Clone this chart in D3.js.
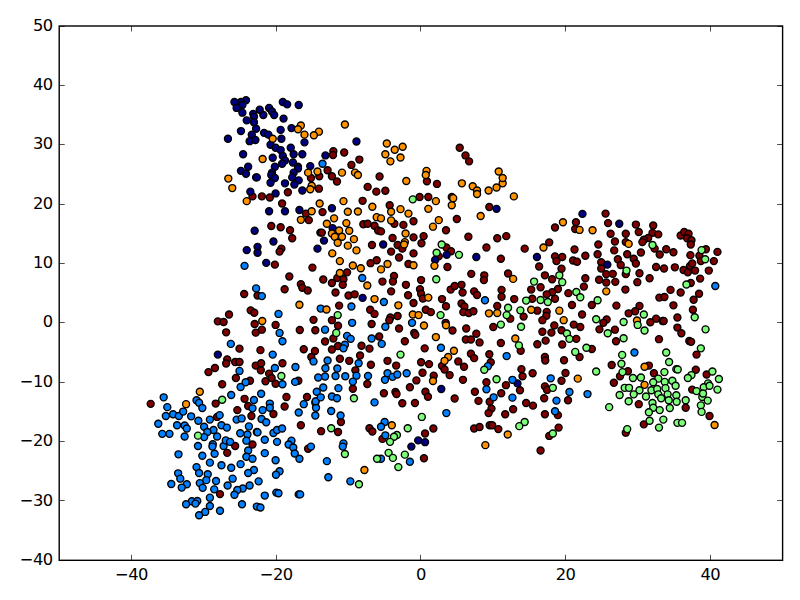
<!DOCTYPE html>
<html><head><meta charset="utf-8">
<script src="https://cdn.jsdelivr.net/npm/d3@7"></script>
<style>html,body{margin:0;padding:0;background:#fff}svg{display:block}text{font-family:"DejaVu Sans",sans-serif;font-size:16.3px;letter-spacing:-0.5px;fill:#000}</style>
</head><body><div id="chart"></div>
<script>
const xTicks=[-40,-20,0,20,40];
const yTicks=[-40,-30,-20,-10,0,10,20,30,40,50];
const maroon=[[-12.8,25.7],[-13.95,24.7],[-15.1,24.4],[-14,22.6],[-18.3,22],[-23.2,21.3],[-21.9,21.3],[-20.8,21.1],[-19.1,20.1],[-15.8,18.4],[-13.5,18.65],[-15.4,17.3],[-20.6,16.3],[-19.3,16.1],[-18,15.6],[-13.8,15.2],[-13.6,15.2],
[-12,28.9],[-12.05,28.25],[-10.5,28.7],[-8.4,27.5],[-9.5,26.6],[-12.2,24.7],[-11.5,23.8],[-5.6,24.65],[-7.25,22.9],[-6.05,22.1],[-4.8,22.25],[-7.95,20.55],[-4.2,19.8],[0.96,23.85],[2.35,23.4],[-0.05,21.2],[1.15,21.2],[4.4,21.2],[5.5,29.5],[6.3,28.2],[6.8,27.2],[9.6,19.5],[5.1,17.5],[-7.85,16.6],[-7.25,16.7],[-6.3,16.35],[-5.8,15.55],[-5.4,15.4],[-3.55,16.7],[-2.3,16.5],[-0.9,17.1],[3.6,15.6],
[-6.65,13.1],[-3.8,14.3],[-3.1,13.1],[-2.45,12.5],[-0.9,14.4],[0.5,14.6],[0.2,13.4],[-4,12],[-0.9,11.7],[-2.9,11],[-6,10.55],[-6.85,10.05],[-1.6,9.9],[3.8,9.4],[3.65,12.7],[4.3,12.05],[2.6,11.2],[6.7,14.5],[9.2,12.7],[10.7,14.25],[11.95,14.6],[14.5,12.5],[11.2,10.8],[7.1,8.25],[8.9,8],[8.85,7.2],[12.2,8.3],[0.15,7.2],[-3.6,7.9],[-5.2,6.95],[-3.75,6.95],[-1.95,6.4],[-10.1,8.5],[-11.45,7.55],[-10.6,7.35],[-12.2,6.7],[-10.7,6.4],[-11.7,5.1],[-9.9,4.6],[-9.05,4.8],[-4,5.3],[-1.65,4.65],[0,5.65],[0.15,4.9],[0.4,4.1],[-0.9,3.35],[3.05,4],[3.6,2.8],[4.25,5.6],[4.8,6.2],[5.75,6.4],[5.9,5.1],[7.5,5.3],[7.9,4.7],[5.75,3.25],[6.15,2.75],[6,1.8],[6.75,1.65],[7.4,1.95],[11.3,5.55],[11.3,4.4],[13.05,4],[10.7,2.85],[12.5,0.7],[14.35,1.05],[-11.2,2.9],[-6.9,2.2],[-6.3,1.5],[-4.1,0.9],[-4.25,0.45],[-3.1,1.15],[0.8,2.2],[1.5,1.8],[-12.2,0.45],[-11.35,-0.5],[-6.7,-0.2],[-2.9,-0.95],[3.55,0],[4.5,-1.3],[6.4,-0.95],[10.15,-0.7],[7.8,-1.85],[6.35,-2.8],[7.05,-2.8],[8.25,-3.3],[-0.8,-1.7],[-0.65,-2],[-2.1,-3.1],[-5.65,-2.3],[-12,-2.65],[-11.35,-3.9],[-12.2,-4.5],[-8.1,-3.85],[-7,-4.35],[-8.3,-5.5],[-11.1,-6.05],[-9.8,-6.4],[-6.8,-7.05],[-4.5,-6.4],[-3.3,-7.2],[0.65,-4.3],[0.15,-6.65],[1.25,-6.95],[0.35,-8.4],[1.9,-8.9],[3.05,-7.25],[3.4,-7.85],[4.1,-8.8],[5.3,-6.5],[6.1,-7.4],[7.05,-5.2],[7.5,-5.95],[9.6,-5.3],[9.8,-6.65],[11.2,-3.4],[13.95,-4.7],[14.05,-7.8],[14.2,-9],[11.9,-10.5],[9.2,-10],[5.95,-9.6],[-0.5,-9.7],[-8.95,-8],[-7.3,-10.3],
[25.7,18.4],[26.05,16.8],[29.9,16.55],[32.3,16.4],[21.6,16.95],[21.5,15.8],[18.7,16.05],[26.4,15],[28.5,15],[30.3,15.3],[32.2,15.15],[33,14.9],[31.6,14.3],[31,14],[30.8,13.6],[27,13.7],[28.5,13.6],[24.7,13.2],[17.9,13.55],[21.4,12.35],[26.9,12.2],[24.6,11.55],[28.7,11.55],[30.6,11.85],[32.5,12.5],[33.2,11.5],[34.1,12.4],[35.1,11.9],[36.1,14.7],[36.6,15.3],[37.2,15],[37,14.25],[37.6,13.9],[37.5,13.2],[37.45,11.4],[39.6,12.4],[41.2,11.95],[38.7,11.3],[38.9,10.4],[40.7,10.4],[18.7,11.2],[19.7,11.1],[18.9,10.4],[22.9,11.3],[21.2,10.5],[21.75,10.3],[16.5,9.5],[19.6,9.1],[25.1,10.2],[25.1,9.15],[27.4,10.7],[27.8,9.75],[29.6,10.8],[29.9,10],[32.7,9.4],[33.8,9.15],[35.3,9.35],[36.5,8.9],[37.1,8.5],[37.4,9.6],[37.7,10],[38.1,8.8],[40,8.8],[25.8,8.2],[26.7,8.25],[28.5,8.2],[30.4,8.35],[17.3,8],[18.3,7.35],[22.9,7.5],[24.8,7.25],[25.8,6.8],[27.05,6.9],[30.1,6.85],[31.8,7.5],[38.8,7.45],[37.5,6.7],[16.7,6],[22.7,6.1],[15.4,5.6],[19.1,5.7],[18.3,5.15],[17.55,4.8],[20.55,5],[28.45,5.6],[34.7,5.55],[36.1,5.1],[38.65,4.9],[33.15,4.25],[33.85,4.35],[37.9,3.9],[15.55,4.05],[18.7,4.05],[35.1,2.95],[21.05,3],[23.8,3],[27.2,2.9],[30.4,2.85],[29.8,1.95],[28.9,1.6],[37.8,2.2],[16.25,2.05],[17.55,1.85],[17.5,1.2],[16.95,0.45],[22.45,1.4],[25.85,0.55],[25.4,0],[32.7,0.7],[31.9,0.1],[33.6,0.3],[33.75,0.3],[35.65,0.9],[18.6,-0.45],[21.3,-0.3],[22.2,-0.7],[16.95,-1.5],[18.2,-1.65],[19.6,-1.25],[24.85,-1.1],[27,-1.15],[35.65,-0.8],[36.2,-1.75],[21.65,-2.7],[17.4,-3],[16.25,-3.6],[19.7,-3.65],[27.15,-3.1],[33.1,-2.75],[37.3,-3.05],[37.55,-3.2],[23.8,-4.4],
[17.3,-5.75],[17.35,-6.35],[19.95,-6.3],[22.1,-5.75],[38.3,-5.35],[26.55,-7.1],[31.7,-7.2],[28.8,-8.15],[32.4,-8.5],[38.2,-7.9],[39.7,-8.7],[15.6,-8.5],[20.15,-8.45],[27.7,-9],[19.6,-9.75],[26.85,-10.1],[17.3,-10.7],[17.6,-11.3],[37.7,-11.25],[17.2,-12.7],[20.5,-13.05],[15.65,-13.95],[30.3,-13.7],[36.8,-14.3],[17.3,-15.4],[19.1,-15.55],[40.1,-15.7],[31,-17.1],[19.2,-17.65],[28.5,-18.5],[17.9,-19.05],[16.7,-21.5],
[-9.3,-11.1],[-5,-11.85],[-3.4,-11.65],[-3.25,-12],[-1.4,-10.85],[0.75,-11.6],[1.1,-12.45],[-2.45,-13.55],[-0.7,-13.5],[4.8,-12.75],[-10.95,-16.7],[-11.35,-18.4],[-7,-17.75],[-6.6,-18.3],[-5.2,-19.55],[0.7,-18.65],[1.85,-17.8],[0.55,-22.8],[7.6,-11.6],[8.1,-13.15],[9.65,-13.3],[9.9,-14.45],[9.5,-15.2],[11.25,-11.85],[13.85,-11.35],[14.7,-13.5],[12.9,-14.55],[11.8,-15.4],[7.5,-17.8],[8.25,-17.55],[9.65,-17.25],[10,-17.25],[10.85,-17.9],
[-37.3,-13.65],[-28.3,-13.6],[-24.3,-12.8],[-23.8,-14],[-25.3,-14.7],[-23.35,-15.7],[-28.1,-15.85],[-18.5,-12.5],[-18.75,-14.1],[-20.3,-15.35],[-15.65,-12.5],[-14.5,-13.45],[-16.5,-17.25],[-13.7,-18.25],[-22.6,-18.4],[-23.2,-20.5],[-25.6,-20.75],[-26.7,-21.9],[-15.5,-21.2],[-27.7,-28.85],
[-17.7,14.25],[-19.2,12.5],[-19.45,12],[-20.1,9.8],[-14.9,9.3],[-18.1,7.8],[-16.5,6.5],[-16.3,5.9],[-15.55,5.45],[-18.75,5.65],[-13.4,7.3],[-24.35,4.85],[-22.5,4.6],[-23.45,2.1],[-22.95,1.7],[-26.45,1.4],[-28,0.25],[-27.2,0.15],[-22.9,-0.2],[-21.9,-1.15],[-20,-0.35],[-22.75,-1.65],[-26.85,-1.6],[-14.75,0.5],[-16.65,-1.2],[-14.5,-1.25],[-13.15,-3.15],[-25,-4.35],[-22.1,-4.6],[-16.1,-4.45],[-14.55,-4.75],[-15.05,-5.75],[-26.7,-6.15],[-26.85,-6.85],[-25.6,-6.6],[-25,-6.6],[-22.75,-7.2],[-22,-6.8],[-19.05,-6.8],[-22.05,-8],[-28.4,-7.6],[-29.3,-8.3],[-20.9,-8.55],[-20.55,-9.3],[-25.5,-9.3],[-23.55,-9.75],[-21.4,-9.85],[-20,-10.25],[-16.85,-9.75],[-27.4,-10.35]];
const navy=[[-24.1,37.5],[-24.8,37.2],[-25.7,37.2],[-24.6,36.7],[-25.4,36.2],[-24.6,35.4],[-22.2,35.9],[-20.9,36.2],[-20.5,35.6],[-20.2,35],[-21.7,35],[-23.1,35.2],[-23,34.7],[-24,34.1],[-23,33.8],[-19,37.2],[-18.4,36.8],[-16.8,36.7],[-18.9,34.4],[-24.8,32.3],[-22.7,32.7],[-26.6,31],[-23.3,31.7],[-23.6,30.6],[-22.8,30.8],[-21.6,32],[-21,31.7],[-19.3,32.5],[-17.8,32.8],[-19.2,31],[-20.7,30],[-20,29.5],[-19.3,29.1],[-17.9,29.5],[-16,30.4],[-17.5,28.4],[-16.3,28.4],[-13.1,28.2],[-24.5,28.4],[-20.4,27.8],[-19,28.1],[-18.7,27.35],[-19.1,26.8],[-17.6,27],[-16.9,26.3],[-16.9,26],[-20.1,26.3],[-23.8,26.3],[-24.8,25.6],[-24.1,25.1],[-22.7,24.5],[-22.6,24.5],[-20.5,25.3],[-20.6,24.9],[-20.1,24.4],[-17.5,25.3],[-17.7,24.5],[-15.2,26.4],[-16.8,24],[-17.4,23.3],[-20.7,23.6],[-18.7,23.5],[-16.3,22.3],[-23.5,22.1],[-20,21.8],[-20.9,18.8],[-18.7,18.8],[-16.7,19],[-22.9,15.5],
[-8.8,30.55],[-12.2,19.3],[-12.1,15.95],[10.6,19.2],[-5.1,13.2],[2.1,10.6],[3.7,11.45],[7.8,11.1],[-7.95,4.2],[13.5,-10.2],[22.5,18.35],[27.6,16.7],[16.2,11.1],[25.95,9.8],[2.95,-11.15],[-0.25,-19.8],[0.7,-20.1],[-1.2,-20.85],
[-24,12.25],[-22.5,12.8],[-22.5,11.8],[-20.3,13.7],[-13.3,13.85],[-14.2,12.5],[-21.3,10.1],[-28,-5.35]];
const blue=[[-13.5,26.8],[-8,7.55],[-5,3.5],[-9.5,2.75],[-9.4,0],[-6.7,-2.65],[-4.8,-0.65],[-1.1,0],[-5.3,-3.55],[-10.1,-2.2],[-9.6,-2.7],[-10.4,-3.7],[-10.6,-4.3],[2.9,-4.2],[9,3.8],[12,-5.6],[9.4,-7.3],[-8.5,-6.8],[-11.45,-7.7],[-11.7,-8.95],[-10.35,-9],[-8.8,-8.9],[-9.3,-9.9],[-7.2,-8.95],[-4.5,-8.5],[-4.85,-9.6],[-3.8,-9.1],[-3.15,-8.7],[-1.85,-8.5],[12.8,-9.6],[40.9,6.2],[29.7,-5],[18.1,-9.35],[20.7,-11.65],[23.2,-12],[18.9,-13.1],[18.7,-14.9],
[-11.3,-11],[-12.2,-12.4],[-11.5,-12.7],[-6.3,-13.4],[-12.3,-14.85],[-11,-15.6],[3.65,-15.2],[9.2,-11.2],[10.2,-12.55],[12.8,-12.6],[-4.9,-16.7],[-5.4,-17.5],[-4.8,-18.95],[-10.6,-20.3],[-10.7,-20.85],[-5.4,-22.9],[-1.4,-23.4],[-9.65,-26.7],
[-35.5,-12.55],[-35,-14.2],[-35.2,-15.7],[-34.2,-15.4],[-33.4,-15.7],[-32.8,-14.95],[-36.25,-17],[-33.65,-17.25],[-32.6,-17.3],[-32.3,-17.8],[-35.7,-18.7],[-34.7,-18.7],[-32.6,-19.15],[-31.7,-15.75],[-30.95,-13.05],[-30.6,-13.45],[-30.15,-14.35],[-30.7,-16.5],[-29.1,-16.3],[-29.9,-17.5],[-28.6,-18.05],[-29.45,-18.4],[-29.9,-19.25],[-28.1,-19.15],[-27.75,-15.55],[-27.5,-17.25],[-26.75,-17.65],[-26.15,-12.15],[-25.4,-16.3],[-24.7,-16.1],[-24.9,-18.6],[-23.9,-18.8],[-23.7,-17.45],[-24.05,-19.85],[-22.5,-18.45],[-21.5,-19.7],[-20.3,-18.55],[-19.8,-18.05],[-19.1,-17.8],[-21.95,-16.2],[-21.3,-16.75],[-21.8,-14.7],[-23.2,-14.4],[-23,-13],[-20.8,-13.6],[-20.8,-14.3],[-22,-11.95],[-16.8,-15.1],[-16.1,-13.7],[-14.4,-14.3],[-14.5,-15.6],[-14.45,-13.2],[-14.3,-11.6],[-13.75,-12.55],[-13.4,-10.9],[-24.85,-10.8],[-30.75,-20.75],[-28.7,-20.45],[-28.75,-20.85],[-27.2,-20.75],[-26.9,-19.8],[-26.3,-20.05],[-23.8,-21.5],[-19.8,-20.05],[-21.5,-21.95],[-17.8,-19.85],[-18.2,-20.5],[-17.55,-21],[-17.35,-22],[-16.7,-22.9],[-15.1,-20.85],[-33.45,-22.15],[-30.15,-22.4],[-28.45,-22.05],[-24.05,-22.55],[-23.2,-22.9],[-20,-23.15],[-29.1,-23.55],[-30.95,-24.3],[-27.5,-24],[-26.15,-24.4],[-24.85,-23.8],[-23,-24.8],[-23.8,-25.3],[-19.45,-25],[-19.95,-25.6],[-12.9,-23.3],[-30.6,-25.3],[-29.4,-25.5],[-33.5,-25.35],[-33.2,-26.25],[-29.6,-26.5],[-28.25,-26.65],[-25.95,-26.25],[-34.45,-27.15],[-32.3,-27.2],[-30.5,-27],[-33,-27.75],[-30.1,-27.8],[-28.5,-28.05],[-26.65,-27.4],[-22.35,-26.7],[-23.6,-27.4],[-24.55,-27.9],[-25.3,-28.15],[-25.7,-28.95],[-21.5,-29.1],[-19.9,-28.6],[-19.6,-28.7],[-16.8,-28.9],[-16.6,-28.9],[-12.7,-26],[-29.1,-29.45],[-31.6,-30.05],[-30.85,-30],[-32.4,-30.55],[-31.1,-30.45],[-29.1,-30.85],[-24.65,-30.55],[-22.6,-30.95],[-22.1,-31.1],[-27.7,-31.65],[-29.75,-31.85],[-30.6,-32.4],
[-24.3,9.6],[-22.7,5.8],[-21.9,4.5],[-19.6,1.5],[-13.75,2.4],[-19.45,-1.7],[-13.15,-1.15],[-19.05,-3.1],[-26.2,-3.55],[-20.4,-5.35],[-14.75,-6.5],[-12.8,-6.35],[-13.1,-7.65],[-20.1,-7.6],[-17.25,-7.45],[-25,-8.1],[-24.15,-10],[-19.05,-10.35],[-17.3,-9.95],[-14.1,-9.2],[-13.15,-9.05]];
const orange=[[-16.5,33.25],[-16.9,32.6],[-14,32.2],[-14.7,31.6],[-16,31.7],[-20.4,31],[-21.8,27.6],[-26.55,24.3],[-26,22.7],[-24,20.5],[-15.5,25.3],[-14.2,25.5],[-15,23.1],[-15.2,22.5],[-13.9,20.1],[-15,18.8],[-16.5,17.35],[-12.9,16.7],
[-10.4,33.4],[-4.6,30.2],[-4.8,28.4],[-3.5,29.15],[-2.4,29.65],[-2.7,27.85],[-4.1,27.2],[-10.8,25.3],[-9,25.3],[-8.6,24.9],[0.9,25.6],[0.8,24.9],[-1.9,23.9],[5.8,23.5],[7.3,23],[7.9,22.3],[7.9,21.7],[9.5,22.3],[10.6,22.8],[11.45,23.5],[11.45,24.4],[10.9,25.5],[13,21.3],[4.6,21],[4.4,19.8],[2.2,20.5],[1.15,19.2],[-10.6,20.5],[-10,18.7],[-8.6,18.75],[-6.6,19.55],[-11.9,17.6],[-10.2,16.8],[-11.2,15.55],[-9.8,15.5],[-6,17.8],[-5.4,17.6],[-4,18.7],[-2.7,19.15],[-1.6,18.4],[-4,17.25],[2.6,17.3],[1.8,16.2],[8.4,18],[-2,15.05],[-12.2,15.05],
[-11.8,14.5],[-10.8,14.5],[-9.15,14.1],[-11.4,13.5],[-10,13],[-8.8,12.2],[-12.15,11.7],[-11.1,10.4],[-9.3,9.65],[-8.2,9.2],[-11.1,8.4],[-5.4,9],[-4.5,9.9],[-7.3,6.3],[-6.3,4],[-3,2.95],[-2.1,13.6],[-2.2,13.2],[-0.9,9.7],[2,9.6],[1.15,4.25],[-1,1.4],[-0.2,1.3],[0.55,-0.45],[3.6,-0.4],[2.2,-2.4],[4.7,-4.7],[3.9,-5.75],[3.4,-6.4],[9.55,1.6],[10.7,1.65],[12.9,7.4],[13.2,-2.65],[1.8,-9.8],
[19.8,16.95],[22.1,15.65],[23.9,15.6],[28.9,13.3],[17.1,12.7],[25.8,5.3],[19.3,2.05],[15.4,2.2],[19.9,0.45],[30.05,0.4],[31.1,-7.4],[21.85,-9.4],[31.1,-10.45],[40.8,-17.2],[-3.9,-17.25],[-7.7,-24.8],[12.15,-18.8],[9.05,-20.6],[-30.5,-11.6],[-32.4,-13.7],[-16.7,3.05],[-12.95,2.25],[-21.85,0.3]];
const green=[[-1,20.8],[3,13.2],[2.3,11.8],[5.4,11.45],[2.25,7.35],[-11.4,1.3],[-11.6,-1.7],[2.85,1.3],[11.2,-0.3],[12.2,2.55],[12,1.3],[13.9,2.1],[14.7,3.75],[14,-0.65],[13.7,-3.8],[-2.7,-5.35],[8.9,-7.9],[10.6,-9.5],
[32.2,13.1],[39,12.25],[39.5,10.7],[28.6,8.8],[19.3,8],[19.7,6.85],[15.8,6.95],[36.9,6.45],[21.65,5.2],[22.2,4.3],[24.6,3.8],[16.7,3.85],[17.7,3.5],[31,1.4],[24.4,0.6],[28.2,0.15],[30.15,-0.35],[31.1,-1.3],[38.05,0.95],[39.55,-1.1],[26,-1.75],[28.2,-2.6],[20.35,-1.8],[20.7,-2.7],[38.9,-4.3],[23.05,-4.2],
[21.5,-4.9],[28,-5.4],[34.1,-5],[27.9,-6.9],[34.5,-6.6],[35.5,-7.8],[35.7,-7.85],[24.4,-8.2],[33.85,-8.3],[28.05,-8.3],[40.5,-8.2],[37.6,-8.8],[37.1,-9.3],[41.4,-9.45],[29.5,-9.3],[30.6,-9.2],[33,-9.4],[32.3,-10],[33.9,-9.95],[34.95,-9.75],[35.4,-10.6],[34,-11],[39.9,-10.2],[39.3,-10.85],[41.2,-11.25],[40.1,-10.6],[18.4,-10.95],[28.35,-10.95],[28.95,-10.95],[30.4,-11.35],[32.05,-11.35],[32.85,-11.15],[38.3,-11.5],[27.65,-12.15],[29.6,-12.05],[31.3,-12.4],[33,-12.05],[34.3,-12.05],[33.4,-12.7],[34.45,-13.05],[35.5,-12.2],[35.55,-13.3],[39.1,-12.5],[39.2,-11.9],[39.85,-13.1],[36.8,-13.05],[28.9,-13.2],[32.2,-13.5],[26.2,-14.2],[32.3,-14.3],[33.2,-14.7],[34.6,-14.35],[31.7,-15.05],[38.9,-13.9],[39,-15],[31.8,-16.5],[33.7,-16.3],[35.65,-16.85],[36.3,-16.85],[33.1,-17.65],[28.7,-17.9],[18.4,-18.65],
[-9.15,-12.7],[0.25,-15.85],[-1.7,-17.75],[-12.3,-17.75],[-3.2,-18.9],[-3.6,-19.2],[-4.15,-20.05],[-10.4,-22.1],[-4.35,-21.9],[-5.95,-22.9],[-3.75,-22.75],[-2.1,-22.2],[-3,-24.3],[-8.45,-27.2],[14.5,-16.7],[13.75,-17.4],
[-27.4,-12.95],[-30.75,-19],[-19.2,-8.95]];
const groups=[[maroon,"#7f0000"],[navy,"#00007f"],[blue,"#007fff"],[orange,"#ff9400"],[green,"#7cff79"]];

const W=800,H=600,L=59.2,R=782.6,T=26,B=560.3,tick=5.5;
const x=d3.scaleLinear().domain([-50,50]).range([L,R]);
const y=d3.scaleLinear().domain([-40,50]).range([B,T]);
// the point values were read against a slightly different pixel calibration of the x axis
const xRead=d3.scaleLinear().domain([-50,50]).range([59,781]);
const fmt=d=>String(d).replace("-","\u2212");
const svg=d3.select("#chart").append("svg").attr("width",W).attr("height",H);
groups.forEach(([pts,c])=>{
  svg.append("g").selectAll("circle").data(pts).join("circle")
    .attr("cx",d=>xRead(d[0])).attr("cy",d=>y(d[1])).attr("r",3.5)
    .attr("fill",c).attr("stroke","#000").attr("stroke-width",1.39);
});
svg.append("rect").attr("x",L).attr("y",T).attr("width",R-L).attr("height",B-T).attr("fill","none").attr("stroke","#000").attr("stroke-width",1.4);
const ax=svg.append("g");
const px=d=>Math.floor(x(d))+.5, py=d=>Math.floor(y(d))+.5;
const tickLines=(data,a)=>ax.append("g").selectAll("line").data(data).join("line").attr("stroke","#000").attr("stroke-width",.7).each(function(d){d3.select(this).attr("x1",a.x1(d)).attr("x2",a.x2(d)).attr("y1",a.y1(d)).attr("y2",a.y2(d));});
tickLines(xTicks,{x1:px,x2:px,y1:()=>B,y2:()=>B-tick});
tickLines(xTicks,{x1:px,x2:px,y1:()=>T,y2:()=>T+tick});
tickLines(yTicks,{x1:()=>L,x2:()=>L+tick,y1:py,y2:py});
tickLines(yTicks,{x1:()=>R,x2:()=>R-tick,y1:py,y2:py});
ax.append("g").selectAll("text").data(xTicks).join("text").attr("x",d=>x(d)).attr("y",B+20).attr("text-anchor","middle").text(fmt);
ax.append("g").selectAll("text").data(yTicks).join("text").attr("x",L-6.5).attr("y",d=>y(d)+4.6).attr("text-anchor","end").text(fmt);
</script></body></html>
